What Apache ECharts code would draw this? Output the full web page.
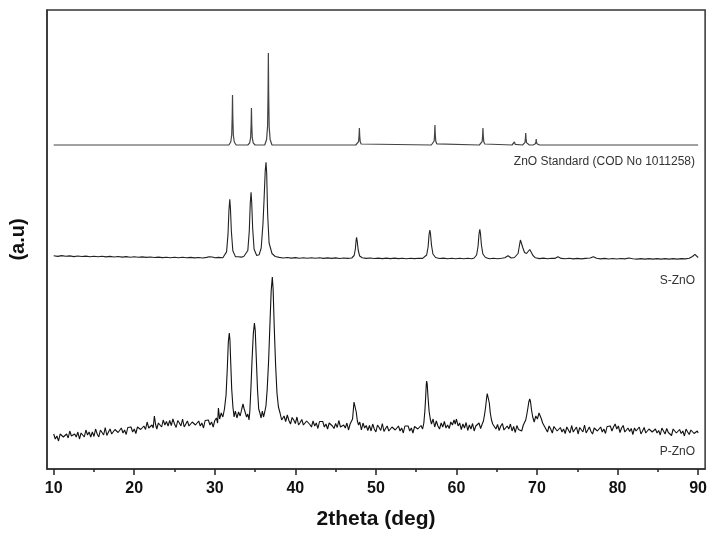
<!DOCTYPE html>
<html>
<head>
<meta charset="utf-8">
<script src="https://cdn.jsdelivr.net/npm/echarts@6/dist/echarts.min.js"></script>
<style>html,body{margin:0;padding:0;background:#fff;}#c{width:710px;height:536px;}</style>
</head>
<body>
<div id="c"></div>
<script>
// x tick labels / ticks
var xTicks = [10, 20, 30, 40, 50, 60, 70, 80, 90];
var xMinorTicks = [15, 25, 35, 45, 55, 65, 75, 85];
var seriesNames = ['ZnO Standard (COD No 1011258)', 'S-ZnO', 'P-ZnO'];

// ZnO standard pattern (offset, a.u.)
var znoStandard = [
[10,324],[31.75,324],[31.98,327],[32.1,334],[32.16,351.5],[32.2,374],[32.24,351.5],[32.3,334],[32.42,327],[32.65,324],
[34.1,324],[34.33,326.2],[34.45,331.4],[34.51,344.4],[34.55,361],[34.59,344.4],[34.65,331.4],[34.77,326.2],[35.0,324],
[36.2,324],[36.43,329.5],[36.55,342.4],[36.61,374.6],[36.65,416],[36.69,374.6],[36.75,342.4],[36.87,329.5],[37.1,324],
[47.5,324],[47.73,325],[47.85,327.4],[47.91,333.4],[47.95,341],[47.99,333.4],[48.05,327.4],[48.17,325],[48.4,324],
[56.88,324],[57.11,325.2],[57.23,328],[57.29,335],[57.33,344],[57.37,335],[57.43,328],[57.55,325.2],[57.78,324],
[62.84,324],[63.07,325],[63.19,327.4],[63.25,333.4],[63.29,341],[63.33,333.4],[63.39,327.4],[63.51,325],[63.74,324],
[66.9,324],[67.1,324.6],[67.2,327],[67.3,324.6],[67.5,324],
[68.2,324],[68.38,324.7],[68.5,326.4],[68.56,330.6],[68.6,336],[68.64,330.6],[68.7,326.4],[68.82,324.7],[69.05,324],
[69.5,324],[69.8,325.2],[69.87,327.3],[69.9,330],[69.93,327.3],[70.0,325.2],[70.3,324],
[72.7,324],[72.9,325.5],[73.1,324],
[77.5,324],[77.7,325.5],[77.9,324],
[81.5,324],[81.7,325],[81.9,324],[90,324]
];

// S-ZnO pattern (offset, a.u.)
var sZnO = [
[10,213.2],[10.5,212.6],[11,213.4],[11.5,212.8],[12,213.1],[12.5,212.4],[13,213.0],[13.5,212.5],[14,212.9],[14.5,212.3],
[15,212.8],[15.5,212.2],[16,212.7],[16.5,212.1],[17,212.6],[17.5,212.0],[18,212.5],[18.5,211.9],[19,212.4],[19.5,211.8],
[20,212.2],[20.5,211.7],[21,212.1],[21.5,211.6],[22,212.0],[22.5,211.5],[23,211.9],[23.5,211.4],[24,211.8],[24.5,211.3],
[25,211.8],[25.5,211.2],[26,211.7],[26.5,211.2],[27,211.6],[27.5,211.1],[28,211.5],[28.5,211.0],[29,211.6],[29.3,212.2],
[29.5,213.0],[29.7,212.0],[30,211.2],[30.5,211.6],[31,211.3],
[31.16,211.3],[31.46,217.1],[31.64,234.6],[31.76,259.2],[31.86,269.7],[31.94,260.9],[32.06,237.5],[32.24,218.2],[32.56,212.4],
[32.9,212.2],[33.3,211.9],[33.6,212.5],
[33.8,212.5],[34.1,218.5],[34.28,237.9],[34.4,265],[34.5,276.7],[34.58,267],[34.7,241],[34.88,219.8],[35.2,213.5],
[35.5,214.2],[35.76,221],[35.98,245],[36.12,270],[36.26,298],[36.36,306.7],[36.44,296],[36.56,255],[36.74,226],[37.1,215.5],[37.5,212.5],[38,211.6],
[38.5,211.0],[39,211.5],[39.5,210.9],[40,211.4],[40.5,210.8],[41,211.3],[41.5,210.7],[42,211.2],[42.5,210.7],[43,211.2],
[43.5,210.6],[44,211.1],[44.5,210.6],[45,211.1],[45.5,210.5],[46,211.0],[46.5,210.6],[47,211.0],
[47.1,211.3],[47.3,213.5],[47.45,220],[47.54,228.5],[47.6,231.7],[47.68,228],[47.8,219],[47.98,213],[48.3,211.2],
[48.8,210.6],[49.3,211.0],[49.8,210.5],[50.3,210.9],[50.8,210.4],[51.3,210.9],[51.8,210.4],[52.3,210.9],[52.8,210.4],[53.3,210.8],
[53.8,210.3],[54.3,210.8],[54.8,210.4],[55.3,210.8],[55.8,210.6],
[56.0,211.0],[56.3,214],[56.48,222],[56.6,234.5],[56.7,239],[56.78,235],[56.9,224],[57.08,215],[57.4,211.5],
[57.9,210.5],[58.4,210.9],[58.9,210.3],[59.4,210.8],[59.9,210.3],[60.4,210.7],[60.9,210.2],[61.4,210.7],[61.9,210.3],
[62.2,211.0],[62.5,214],[62.68,222.5],[62.8,235],[62.9,239.7],[62.98,235.5],[63.1,224],[63.28,215],[63.6,211.5],
[64.1,210.3],[64.6,210.8],[65.1,210.2],[65.6,210.7],[66.0,211.2],[66.4,213.3],[66.8,211.0],[67.2,211.5],
[67.4,212],[67.65,215.5],[67.85,225],[67.94,229],[68.0,230],[68.08,228.5],[68.25,221],[68.45,216.5],[68.7,215.5],[68.9,216.5],
[69.1,219.5],[69.2,220],[69.3,218.5],[69.5,213.5],[69.8,211.2],
[70.3,210.4],[70.8,210.9],[71.3,210.3],[71.8,210.8],[72.2,210.6],[72.6,212.3],[73.0,210.6],[73.5,210.2],[74,210.7],[74.5,210.1],
[75,210.6],[75.5,210.1],[76,210.6],[76.6,211.0],[77.0,212.3],[77.4,210.8],[77.9,210.1],[78.4,210.6],[78.9,210.0],[79.4,210.5],
[79.9,210.0],[80.4,210.5],[80.9,210.1],[81.4,211.0],[81.9,210.3],[82.4,209.9],[82.9,210.4],[83.4,209.9],[83.9,210.4],[84.4,209.9],
[84.9,210.4],[85.4,209.9],[85.9,210.4],[86.4,209.9],[86.9,210.4],[87.4,209.9],[87.9,210.4],[88.4,210.1],[88.9,210.8],[89.3,212.5],
[89.6,214.7],[89.8,213.5],[90.0,211.5]
];

// P-ZnO pattern (a.u.)
var pZnO = [
[10.0,35],[10.2,30],[10.4,33],[10.6,28],[10.8,35],[11.0,37],[11.2,32],[11.4,30],[11.6,35],[11.8,31],
[12.0,38],[12.2,33],[12.4,31],[12.6,35],[12.8,32],[13.0,37],[13.2,30],[13.4,36],[13.6,35],[13.8,32],
[14.0,39],[14.2,34],[14.4,37],[14.6,32],[14.8,37],[15.0,32.5],[15.2,40],[15.4,35],[15.6,32],[15.8,39],
[16.0,37],[16.2,34],[16.4,41.5],[16.6,33.5],[16.8,37],[17.0,40],[17.2,35],[17.4,33],[17.6,39.5],[17.8,41.5],
[18.0,36.5],[18.2,35],[18.4,41],[18.6,36],[18.8,39],[19.0,34.5],[19.2,41.5],[19.4,39.5],[19.6,42],[19.8,37],
[20.0,40],[20.2,35.5],[20.4,42],[20.6,44],[20.8,39.5],[21.0,38],[21.2,43],[21.4,39.5],[21.6,47],[21.8,41],
[22.0,39.5],[22.2,44],[22.35,41],[22.5,53],[22.65,44.5],[22.8,40],[23.0,46],[23.2,44.5],[23.4,42],[23.6,49],
[23.8,44],[24.0,47.5],[24.2,43],[24.4,48.5],[24.6,43.5],[24.8,50],[25.0,45],[25.2,41.5],[25.4,48.5],[25.6,46],
[25.8,43],[26.0,50],[26.2,42],[26.4,45],[26.6,48],[26.8,43],[27.0,41],[27.2,47],[27.4,49],[27.6,44],
[27.8,42],[28.0,48],[28.2,43],[28.4,46],[28.6,41],[28.8,48.5],[29.0,46.5],[29.2,49],[29.4,44],[29.6,47],
[29.8,42],[30.0,48.5],[30.2,51],[30.35,46],[30.45,61],[30.6,50],[30.8,56],[31.0,52],[31.2,60],
[31.4,74],[31.55,100],[31.68,127],[31.8,136],[31.88,129],[31.98,106],[32.1,80],[32.25,62],[32.4,52],[32.55,58],
[32.75,51],[32.95,57],[33.15,53],[33.35,60],[33.5,65],[33.65,60],[33.8,62],[33.95,52],[34.1,55],[34.25,49],
[34.35,58],[34.48,80],[34.62,108],[34.78,135],[34.92,146],[35.02,139],[35.15,111],[35.3,80],[35.45,60],[35.6,56],
[35.75,51],[35.9,58],[36.05,52],[36.2,57],[36.35,63],[36.5,79],[36.68,108],[36.86,148],[37.0,178],[37.14,192],
[37.24,180],[37.38,142],[37.55,104],[37.72,76],[37.9,62],[38.1,56],[38.3,49],
[38.6,53],[38.8,47.5],[39.0,54],[39.2,48.5],[39.4,45],[39.6,51.5],[39.8,49],[40.0,45.5],[40.2,52],[40.4,44],
[40.6,46.5],[40.8,49.5],[41.0,44],[41.2,42],[41.4,48],[41.6,49.5],[41.8,44.5],[42.0,42],[42.2,48],[42.4,43],
[42.6,46],[42.8,40.5],[43.0,47.5],[43.2,45.5],[43.4,47.5],[43.6,42],[43.8,45],[44.0,40],[44.2,46],[44.4,48],
[44.6,43],[44.8,40.5],[45.0,45.5],[45.2,41.5],[45.4,48.5],[45.6,42],[45.8,40],[46.0,44],[46.2,41],[46.4,46],
[46.6,39],[46.8,45],[47.0,43],
[47.1,50],[47.2,59],[47.28,67],[47.35,69],[47.44,66],[47.56,57],[47.7,48],[47.85,44],[48.0,47],
[48.2,39],[48.4,46],[48.6,41],[48.8,43.5],[49.0,38.5],[49.2,43.5],[49.4,38],[49.6,45],[49.8,40],[50.0,37],
[50.2,44],[50.4,41.5],[50.6,38.5],[50.8,45.5],[51.0,37.5],[51.2,40.5],[51.4,43],[51.6,38],[51.8,36],[52.0,42],
[52.2,44],[52.4,39],[52.6,37],[52.8,43],[53.0,38],[53.2,41],[53.4,36],[53.6,43],[53.8,41],[54.0,43],
[54.2,38],[54.4,41],[54.6,36],[54.8,42.5],[55.0,44.5],[55.2,40],[55.4,38],[55.6,43.5],[55.8,40],[55.95,46],
[56.08,58],[56.18,72],[56.25,84],[56.3,88],[56.37,85],[56.47,72],[56.6,58],[56.75,50],[56.9,45],[57.1,50],
[57.3,42],[57.5,48],[57.7,43],[57.9,40],[58.1,46],[58.3,42],[58.5,47.5],[58.7,41],[58.9,44],[59.1,40.5],
[59.3,47],[59.5,44],[59.7,49],[59.85,45],[60.0,50],[60.2,43],[60.4,46],[60.6,39.5],[60.8,45],[61.0,41],
[61.2,46.5],[61.4,38.5],[61.6,44],[61.8,40],[62.0,45.5],[62.2,38],[62.4,43],[62.6,41],[62.8,46],[63.0,40.5],
[63.2,45],[63.35,48],
[63.5,55],[63.62,62],[63.73,70],[63.82,75.5],[63.9,77],[63.98,74],[64.08,66],[64.2,56],[64.35,49],[64.5,45],
[64.7,46],[64.9,40],[65.1,44.5],[65.3,38.5],[65.5,43],[65.7,45.5],[65.9,39],[66.1,37.5],[66.3,43],[66.5,40],
[66.7,45],[66.9,38],[67.1,42.5],[67.3,36.5],[67.5,43.5],[67.7,39.5],[67.9,41.5],[68.1,38],[68.3,44],[68.45,42],
[68.6,49],
[68.7,53],[68.85,60],[68.98,67],[69.1,70],[69.2,67],[69.32,59],[69.47,52],[69.65,47],[69.85,53],[70.05,50],
[70.25,56],[70.4,54],[70.55,50],[70.7,46],[70.9,43],
[71.1,42],[71.3,37],[71.5,43],[71.7,40],[71.9,36],[72.1,42.5],[72.3,44],[72.5,38],[72.7,36],[72.9,41.5],
[73.1,37],[73.3,40],[73.5,35.5],[73.7,42],[73.9,39],[74.1,36],[74.3,43.5],[74.5,37],[74.7,39],[74.9,42],
[75.1,35],[75.3,41.5],[75.5,40],[75.7,37],[75.9,44],[76.1,36],[76.3,39],[76.5,42],[76.7,37.5],[76.9,35],
[77.1,41],[77.3,43],[77.5,38],[77.7,36],[77.9,42],[78.1,37],[78.3,40],[78.5,35.5],[78.7,42.5],[78.9,40.5],
[79.1,43],[79.3,38],[79.5,42],[79.7,45],[79.9,40],[80.1,43],[80.3,36.5],[80.5,41],[80.7,43.5],[80.9,37],
[81.1,35],[81.3,41],[81.5,37.5],[81.7,40.5],[81.9,34.5],[82.1,41],[82.3,38],[82.5,36],[82.7,42],[82.9,35],
[83.1,38],[83.3,41.5],[83.5,36],[83.7,34],[83.9,40],[84.1,42],[84.3,37],[84.5,35],[84.7,40],[84.9,36],
[85.1,38.5],[85.3,34],[85.5,41],[85.7,38],[85.9,35],[86.1,40.5],[86.3,36.5],[86.5,38.5],[86.7,33.5],[86.9,40],
[87.1,41.5],[87.3,36],[87.5,34],[87.7,39.5],[87.9,35.5],[88.1,38],[88.3,33],[88.5,40],[88.7,37],[88.9,34.5],
[89.1,39],[89.3,41],[89.5,35.5],[89.7,33.5],[89.9,38],[90.0,36]
];

var FONT = "'Liberation Sans', Arial, Helvetica, sans-serif";
var chart = echarts.init(document.getElementById('c'), null, {renderer: 'canvas'});

function lineSeries(name, data, color, width) {
  return {
    name: name, type: 'line', data: data, showSymbol: false, symbol: 'none',
    lineStyle: {color: color, width: width}, animation: false, silent: true,
    xAxisIndex: 0, yAxisIndex: 0
  };
}

chart.setOption({
  animation: false,
  backgroundColor: '#fff',
  grid: {left: 46, right: 4, top: 10, bottom: 67, show: true, borderColor: '#333', borderWidth: 1.5, containLabel: false},
  xAxis: [{
    type: 'value', min: 9.17, max: 90.87, position: 'bottom',
    axisLine: {show: true, onZero: false, lineStyle: {color: '#333', width: 1.5}},
    axisTick: {show: true, customValues: xTicks, length: 6, lineStyle: {color: '#222', width: 1.5}},
    axisLabel: {customValues: xTicks, margin: 12, fontSize: 16, fontWeight: 'bold', color: '#111', fontFamily: FONT},
    splitLine: {show: false},
    name: '2theta (deg)', nameLocation: 'middle', nameGap: 40,
    nameTextStyle: {fontSize: 21, fontWeight: 'bold', color: '#111', fontFamily: FONT}
  }, {
    type: 'value', min: 9.17, max: 90.87, position: 'bottom',
    axisLine: {show: false},
    axisTick: {show: true, customValues: xMinorTicks, length: 3, lineStyle: {color: '#222', width: 1.5}},
    axisLabel: {show: false},
    splitLine: {show: false}
  }],
  yAxis: [{
    type: 'value', min: 0, max: 459,
    axisLine: {show: true, lineStyle: {color: '#333', width: 1.5}},
    axisTick: {show: false}, axisLabel: {show: false}, splitLine: {show: false},
    name: '(a.u)', nameLocation: 'middle', nameRotate: 90, nameGap: 19,
    nameTextStyle: {fontSize: 20, fontWeight: 'bold', color: '#111', fontFamily: FONT}
  }],
  graphic: [
    {type: 'text', right: 15, top: 156, style: {text: seriesNames[0], fontSize: 12, fill: '#333', fontFamily: FONT}},
    {type: 'text', right: 15, top: 275, style: {text: seriesNames[1], fontSize: 12, fill: '#333', fontFamily: FONT}},
    {type: 'text', right: 15, top: 446, style: {text: seriesNames[2], fontSize: 12, fill: '#333', fontFamily: FONT}}
  ],
  series: [
    lineSeries(seriesNames[0], znoStandard, '#444', 1.2),
    lineSeries(seriesNames[1], sZnO, '#222', 1.1),
    lineSeries(seriesNames[2], pZnO, '#111', 1.1)
  ]
});
</script>
</body>
</html>
